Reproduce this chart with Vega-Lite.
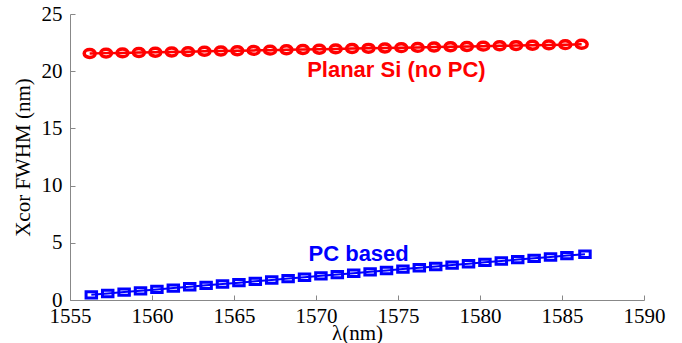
{
  "$schema": "https://vega.github.io/schema/vega-lite/v6.json",
  "width": 574,
  "height": 286,
  "autosize": "none",
  "padding": {"left": 70, "top": 14, "right": 38, "bottom": 43},
  "background": "white",
  "config": {
    "view": {"stroke": null},
    "axis": {
      "grid": false,
      "domainColor": "#888888",
      "tickColor": "#888888",
      "tickSize": -5,
      "labelFont": "Liberation Serif",
      "labelFontSize": 21,
      "labelColor": "black",
      "titleFont": "Liberation Serif",
      "titleFontSize": 21,
      "titleFontWeight": "normal",
      "titleColor": "black",
      "labelOverlap": false,
      "labelFlush": false,
      "format": "d"
    }
  },
  "datasets": {
    "planar": [
      {"lambda": 1556.2, "fwhm": 21.55}, {"lambda": 1557.2, "fwhm": 21.58}, {"lambda": 1558.2, "fwhm": 21.60},
      {"lambda": 1559.2, "fwhm": 21.63}, {"lambda": 1560.2, "fwhm": 21.66}, {"lambda": 1561.2, "fwhm": 21.68},
      {"lambda": 1562.2, "fwhm": 21.71}, {"lambda": 1563.2, "fwhm": 21.74}, {"lambda": 1564.2, "fwhm": 21.76},
      {"lambda": 1565.2, "fwhm": 21.79}, {"lambda": 1566.2, "fwhm": 21.82}, {"lambda": 1567.2, "fwhm": 21.84},
      {"lambda": 1568.2, "fwhm": 21.87}, {"lambda": 1569.2, "fwhm": 21.90}, {"lambda": 1570.2, "fwhm": 21.92},
      {"lambda": 1571.2, "fwhm": 21.95}, {"lambda": 1572.2, "fwhm": 21.98}, {"lambda": 1573.2, "fwhm": 22.00},
      {"lambda": 1574.2, "fwhm": 22.03}, {"lambda": 1575.2, "fwhm": 22.06}, {"lambda": 1576.2, "fwhm": 22.08},
      {"lambda": 1577.2, "fwhm": 22.11}, {"lambda": 1578.2, "fwhm": 22.14}, {"lambda": 1579.2, "fwhm": 22.16},
      {"lambda": 1580.2, "fwhm": 22.19}, {"lambda": 1581.2, "fwhm": 22.22}, {"lambda": 1582.2, "fwhm": 22.24},
      {"lambda": 1583.2, "fwhm": 22.27}, {"lambda": 1584.2, "fwhm": 22.30}, {"lambda": 1585.2, "fwhm": 22.32},
      {"lambda": 1586.2, "fwhm": 22.35}
    ],
    "pc": [
      {"lambda": 1556.3, "fwhm": 0.45}, {"lambda": 1557.3, "fwhm": 0.57}, {"lambda": 1558.3, "fwhm": 0.69},
      {"lambda": 1559.3, "fwhm": 0.80}, {"lambda": 1560.3, "fwhm": 0.92}, {"lambda": 1561.3, "fwhm": 1.04},
      {"lambda": 1562.3, "fwhm": 1.16}, {"lambda": 1563.3, "fwhm": 1.28}, {"lambda": 1564.3, "fwhm": 1.40},
      {"lambda": 1565.3, "fwhm": 1.51}, {"lambda": 1566.3, "fwhm": 1.63}, {"lambda": 1567.3, "fwhm": 1.75},
      {"lambda": 1568.3, "fwhm": 1.87}, {"lambda": 1569.3, "fwhm": 1.99}, {"lambda": 1570.3, "fwhm": 2.11},
      {"lambda": 1571.3, "fwhm": 2.22}, {"lambda": 1572.3, "fwhm": 2.34}, {"lambda": 1573.3, "fwhm": 2.46},
      {"lambda": 1574.3, "fwhm": 2.58}, {"lambda": 1575.3, "fwhm": 2.70}, {"lambda": 1576.3, "fwhm": 2.82},
      {"lambda": 1577.3, "fwhm": 2.93}, {"lambda": 1578.3, "fwhm": 3.05}, {"lambda": 1579.3, "fwhm": 3.17},
      {"lambda": 1580.3, "fwhm": 3.29}, {"lambda": 1581.3, "fwhm": 3.41}, {"lambda": 1582.3, "fwhm": 3.53},
      {"lambda": 1583.3, "fwhm": 3.64}, {"lambda": 1584.3, "fwhm": 3.76}, {"lambda": 1585.3, "fwhm": 3.88},
      {"lambda": 1586.4, "fwhm": 4.00}
    ],
    "labels": [
      {"lambda": 1574.9, "fwhm": 20.1, "text": "Planar Si (no PC)", "series": "planar"},
      {"lambda": 1572.6, "fwhm": 4.0, "text": "PC based", "series": "pc"}
    ]
  },
  "encoding": {
    "x": {
      "field": "lambda",
      "type": "quantitative",
      "scale": {"domain": [1555, 1590], "nice": false, "zero": false},
      "axis": {"values": [1555, 1560, 1565, 1570, 1575, 1580, 1585, 1590], "title": "λ(nm)", "labelPadding": 10, "titlePadding": -4}
    },
    "y": {
      "field": "fwhm",
      "type": "quantitative",
      "scale": {"domain": [0, 25], "nice": false},
      "axis": {"values": [0, 5, 10, 15, 20, 25], "title": "Xcor FWHM (nm)", "labelPadding": 13, "titlePadding": 8}
    }
  },
  "layer": [
    {"data": {"name": "planar"}, "mark": {"type": "line", "color": "#ff0000", "strokeWidth": 2.5}},
    {"data": {"name": "planar"}, "mark": {"type": "point", "filled": false, "stroke": "#ff0000", "strokeWidth": 3.5, "opacity": 1, "size": 120, "shape": "M-1,0A1,0.72 0 1,0 1,0A1,0.72 0 1,0 -1,0Z"}},
    {"data": {"name": "pc"}, "mark": {"type": "line", "color": "#0000ff", "strokeWidth": 2}},
    {"data": {"name": "pc"}, "mark": {"type": "point", "filled": false, "stroke": "#0000ff", "strokeWidth": 3, "opacity": 1, "size": 110, "shape": "M-1,-0.6H1V0.6H-1Z"}},
    {
      "data": {"name": "labels"},
      "mark": {"type": "text", "font": "Liberation Sans", "fontWeight": "bold", "fontSize": 22, "align": "center", "baseline": "middle"},
      "encoding": {
        "text": {"field": "text"},
        "color": {"field": "series", "type": "nominal", "scale": {"domain": ["planar", "pc"], "range": ["#ff0000", "#0000ff"]}, "legend": null}
      }
    }
  ]
}
